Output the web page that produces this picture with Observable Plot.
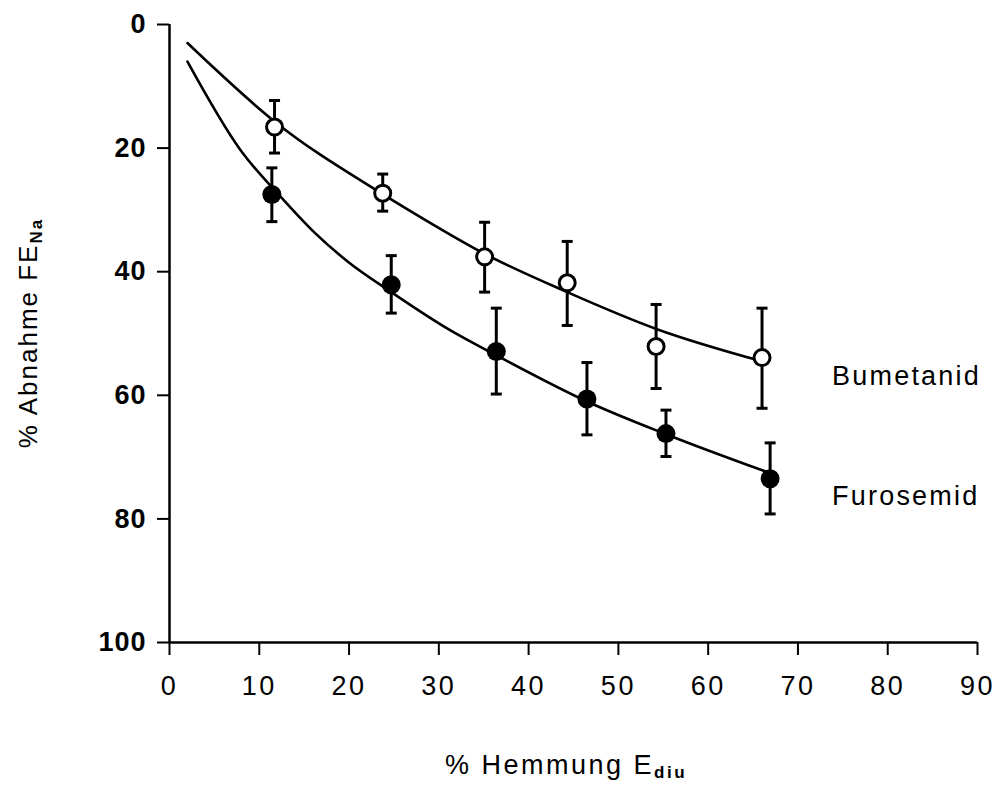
<!DOCTYPE html>
<html>
<head>
<meta charset="utf-8">
<script src="https://cdn.jsdelivr.net/npm/d3@7"></script>
<script src="https://cdn.jsdelivr.net/npm/@observablehq/plot@0.6"></script>
<style>
  html, body { margin: 0; padding: 0; background: #fff; }
</style>
</head>
<body>
<div id="chart"></div>
<script>
// ---- data ----
const seriesNames = ["Bumetanid", "Furosemid"];
const xTicks = [0, 10, 20, 30, 40, 50, 60, 70, 80, 90];
const yTicks = [0, 20, 40, 60, 80, 100];

// Bumetanid (open circles)
const bumX  = [11.7, 23.75, 35.1, 44.3, 54.2, 66.0];
const bumY  = [16.6, 27.3, 37.6, 41.8, 52.1, 53.9];
const bumLo = [12.3, 24.2, 32.0, 35.1, 45.3, 45.9];
const bumHi = [20.8, 30.2, 43.3, 48.7, 58.9, 62.1];

// Furosemid (filled circles)
const furX  = [11.4, 24.7, 36.4, 46.5, 55.3, 66.9];
const furY  = [27.5, 42.1, 52.9, 60.6, 66.2, 73.5];
const furLo = [23.2, 37.4, 45.9, 54.7, 62.4, 67.7];
const furHi = [31.9, 46.7, 59.8, 66.4, 69.9, 79.2];

// fitted curves, points
const bumCurveX = [2.0, 11.8, 23.7, 28.0, 35.1, 44.3, 54.3, 66.0];
const bumCurveY = [3.0, 15.8, 27.4, 31.2, 37.1, 43.3, 49.3, 54.5];
const furCurveX = [2.0, 7.9, 12.4, 16.1, 19.8, 24.7, 31.3, 36.5, 46.5, 55.3, 66.9];
const furCurveY = [6.0, 20.3, 27.9, 33.6, 38.3, 43.3, 49.5, 53.6, 61.0, 66.3, 72.6];

// ---- build tables ----
const pts = (xs, ys, lo, hi) => xs.map((x, i) => ({x, y: ys[i], lo: lo[i], hi: hi[i]}));
const bum = pts(bumX, bumY, bumLo, bumHi);
const fur = pts(furX, furY, furLo, furHi);
const bumCurve = bumCurveX.map((x, i) => ({x, y: bumCurveY[i]}));
const furCurve = furCurveX.map((x, i) => ({x, y: furCurveY[i]}));
const labels = [
  {name: seriesNames[0], x: 73.8, y: 57.0},
  {name: seriesNames[1], x: 73.8, y: 76.3}
];

const capSymbol = {
  draw(ctx, size) {
    const w = Math.sqrt(size / Math.PI);
    ctx.moveTo(-w, 0);
    ctx.lineTo(w, 0);
  }
};

const font = "'Liberation Sans', Arial, Helvetica, sans-serif";

const errMarks = (data) => [
  Plot.ruleX(data, {x: "x", y1: "lo", y2: "hi", stroke: "black", strokeWidth: 3}),
  Plot.dot(data, {x: "x", y: "lo", symbol: capSymbol, r: 5.5, stroke: "black", strokeWidth: 3}),
  Plot.dot(data, {x: "x", y: "hi", symbol: capSymbol, r: 5.5, stroke: "black", strokeWidth: 3})
];

const chart = Plot.plot({
  width: 996,
  height: 785,
  marginLeft: 169,
  marginRight: 19,
  marginTop: 24,
  marginBottom: 143,
  style: {fontFamily: font, background: "white", color: "black"},
  x: {domain: [0, 90]},
  y: {domain: [0, 100], reverse: true},
  marks: [
    Plot.axisX({ticks: xTicks, tickSize: 13, tickPadding: 20, fontSize: 27, label: null, strokeWidth: 2}),
    Plot.axisY({ticks: yTicks, tickSize: 12, tickPadding: 11, fontSize: 27, fontWeight: "bold", label: null, strokeWidth: 2}),
    Plot.ruleX([0], {stroke: "black", strokeWidth: 2.5}),
    Plot.ruleY([100], {stroke: "black", strokeWidth: 2.5}),
    Plot.line(bumCurve, {x: "x", y: "y", curve: "monotone-x", stroke: "black", strokeWidth: 2.6}),
    Plot.line(furCurve, {x: "x", y: "y", curve: "monotone-x", stroke: "black", strokeWidth: 2.6}),
    ...errMarks(bum),
    ...errMarks(fur),
    Plot.dot(bum, {x: "x", y: "y", r: 8, fill: "white", stroke: "black", strokeWidth: 3}),
    Plot.dot(fur, {x: "x", y: "y", r: 9.5, fill: "black", stroke: "none"}),
    Plot.text(labels, {x: "x", y: "y", text: "name", textAnchor: "start", fontSize: 27, fill: "black"})
  ]
});

const svg = d3.select(chart);
// letter spacing as in the reference typeface
svg.selectAll("g[aria-label='text'] text").attr("letter-spacing", "2.2px");
svg.selectAll("g[aria-label='x-axis tick label'] text").attr("letter-spacing", "2.5px");
svg.selectAll("g[aria-label='y-axis tick label'] text").attr("letter-spacing", "1px");

// axis titles with subscripts
const yt = svg.append("text")
  .attr("transform", "translate(37,333) rotate(-90)")
  .attr("text-anchor", "middle")
  .attr("font-family", font)
  .attr("font-size", 26)
  .attr("letter-spacing", "2px")
  .attr("fill", "black");
yt.append("tspan").text("% Abnahme FE");
yt.append("tspan").attr("font-size", 17).attr("font-weight", "bold").attr("dy", 5).text("Na");

const xt = svg.append("text")
  .attr("x", 566)
  .attr("y", 774)
  .attr("text-anchor", "middle")
  .attr("font-family", font)
  .attr("font-size", 27)
  .attr("letter-spacing", "2.5px")
  .attr("fill", "black");
xt.append("tspan").text("% Hemmung E");
xt.append("tspan").attr("font-size", 17).attr("font-weight", "bold").attr("dy", 4).text("diu");

document.getElementById("chart").appendChild(chart);
</script>
</body>
</html>
